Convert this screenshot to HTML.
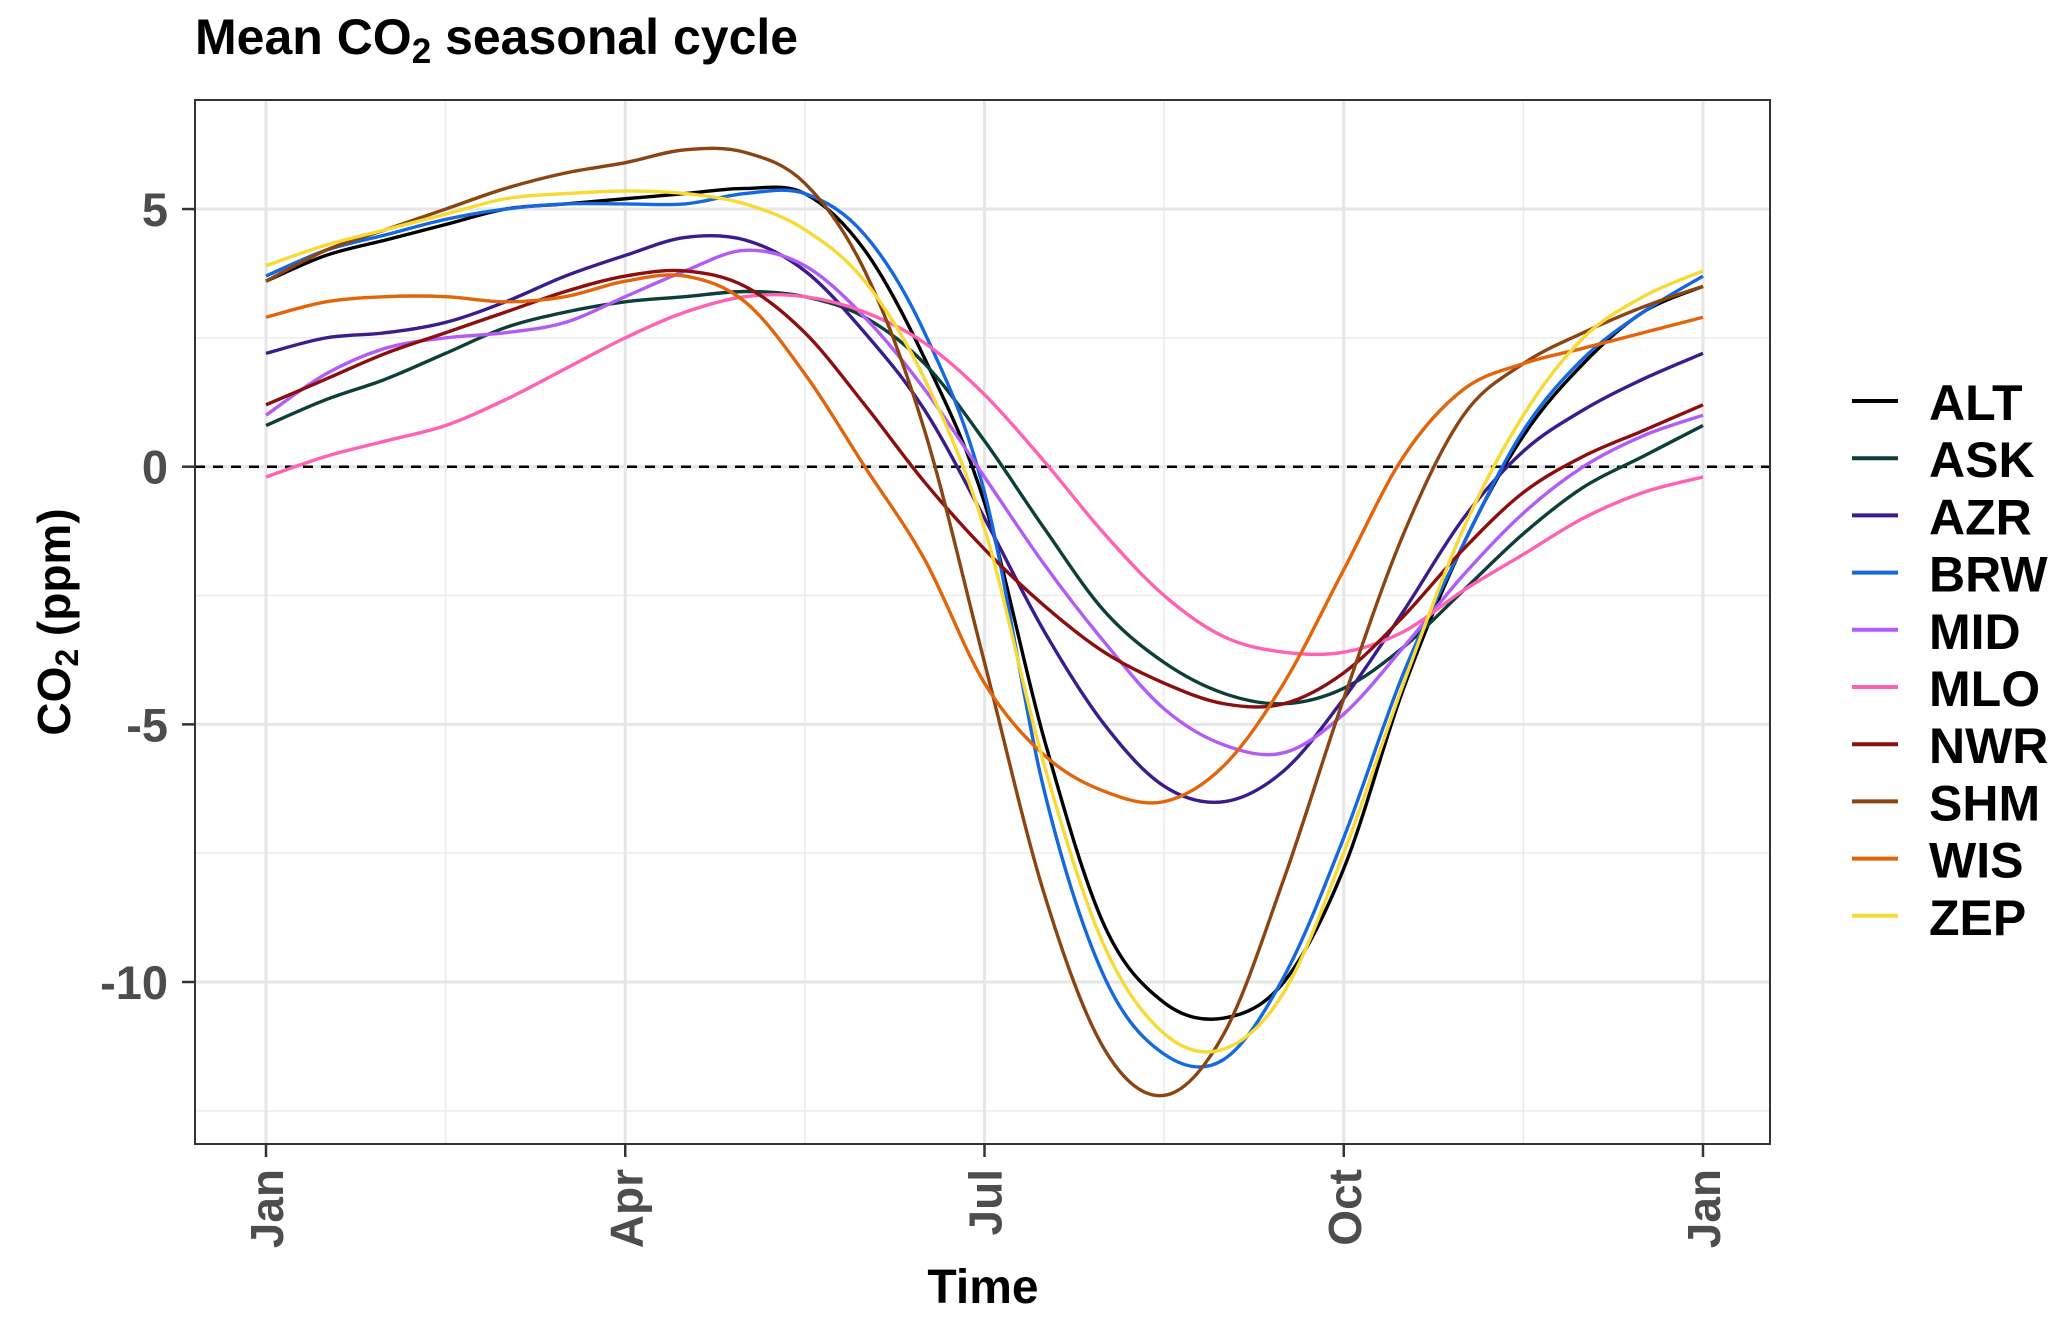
<!DOCTYPE html>
<html><head><meta charset="utf-8"><style>
body{margin:0;background:#fff;}
svg text{font-family:"Liberation Sans",Arial,sans-serif;font-weight:bold;}
</style></head><body>
<svg id="chart" width="2067" height="1323" xmlns="http://www.w3.org/2000/svg">
<rect width="2067" height="1323" fill="#fff"/>
<text x="195" y="54" font-size="50" fill="#000">Mean CO<tspan font-size="35" dy="9">2</tspan><tspan dy="-9"> seasonal cycle</tspan></text>
<g id="grid"></g>
<g id="series"></g>
<rect x="195" y="100" width="1575" height="1044" fill="none" stroke="#333" stroke-width="2"/>
<g id="axes"></g>
<text x="983" y="1303" font-size="48" text-anchor="middle" fill="#000">Time</text>
<text transform="translate(70,622) rotate(-90)" font-size="46" text-anchor="middle" fill="#000">CO<tspan font-size="32" dy="8">2</tspan><tspan dy="-8"> (ppm)</tspan></text>
<g id="legend"></g>
</svg>
<script>
const xTickLabels=["Jan","Apr","Jul","Oct","Jan"];
const xTickMonths=[0,3,6,9,12];
const yTicks=[5,0,-5,-10];
const yMinor=[2.5,-2.5,-7.5,-12.5];
const seriesNames=["ALT","ASK","AZR","BRW","MID","MLO","NWR","SHM","WIS","ZEP"];
const seriesColors=["#000000","#0d3f3a","#3a1c8c","#1668e0","#b25cf6","#ff62b2","#8c0f0f","#8b4513","#e2650c","#f7da35"];
const ALT=[3.6,4.1,4.4,4.7,5.0,5.1,5.2,5.3,5.4,5.3,4.2,2.1,-0.7,-5.3,-8.9,-10.4,-10.7,-10.0,-7.8,-4.3,-1.5,0.6,2.0,3.0,3.5];
const ASK=[0.8,1.3,1.7,2.2,2.7,3.0,3.2,3.3,3.4,3.3,2.9,2.0,0.5,-1.2,-2.8,-3.8,-4.4,-4.6,-4.3,-3.5,-2.4,-1.3,-0.4,0.2,0.8];
const AZR=[2.2,2.5,2.6,2.8,3.2,3.7,4.1,4.45,4.4,3.8,2.6,1.1,-1.0,-3.2,-5.0,-6.2,-6.5,-5.9,-4.5,-2.8,-1.0,0.3,1.1,1.7,2.2];
const BRW=[3.7,4.2,4.5,4.8,5.0,5.1,5.1,5.1,5.3,5.3,4.5,2.6,-0.5,-6.3,-9.9,-11.4,-11.5,-9.9,-7.2,-4.0,-1.5,0.7,2.1,3.0,3.7];
const MID=[1.0,1.8,2.3,2.5,2.6,2.8,3.3,3.8,4.2,3.9,2.9,1.5,-0.2,-1.9,-3.4,-4.7,-5.4,-5.55,-4.8,-3.5,-2.1,-0.9,0.0,0.6,1.0];
const MLO=[-0.2,0.2,0.5,0.8,1.3,1.9,2.5,3.0,3.3,3.3,3.0,2.4,1.4,0.1,-1.3,-2.5,-3.3,-3.6,-3.6,-3.2,-2.4,-1.7,-1.0,-0.5,-0.2];
const NWR=[1.2,1.7,2.2,2.6,3.0,3.4,3.7,3.8,3.5,2.6,1.2,-0.3,-1.6,-2.7,-3.6,-4.2,-4.6,-4.6,-4.0,-2.9,-1.6,-0.5,0.2,0.7,1.2];
const SHM=[3.6,4.2,4.6,5.0,5.4,5.7,5.9,6.15,6.1,5.5,3.8,0.7,-3.8,-8.3,-11.3,-12.2,-11.0,-8.0,-4.5,-1.3,1.0,2.0,2.6,3.1,3.5];
const WIS=[2.9,3.2,3.3,3.3,3.2,3.3,3.6,3.7,3.2,1.8,0.0,-1.8,-4.2,-5.6,-6.3,-6.5,-5.8,-4.2,-2.0,0.2,1.5,2.0,2.3,2.6,2.9];
const ZEP=[3.9,4.3,4.6,4.9,5.2,5.3,5.35,5.3,5.1,4.6,3.6,1.7,-1.2,-5.8,-9.3,-11.0,-11.3,-10.2,-7.5,-4.2,-1.2,1.0,2.5,3.3,3.8];
const seriesValues=[ALT,ASK,AZR,BRW,MID,MLO,NWR,SHM,WIS,ZEP];

const NS="http://www.w3.org/2000/svg";
const X0=195,X1=1770,Y0=100,Y1=1144;
const xJan=266,xJanEnd=1703;
function xScale(m){return xJan+(xJanEnd-xJan)*m/12;}
function yScale(v){return 466.7-51.53*v;}
function mk(tag,attrs,parent){const e=document.createElementNS(NS,tag);for(const k in attrs)e.setAttribute(k,attrs[k]);parent.appendChild(e);return e;}
const grid=document.getElementById('grid'),axes=document.getElementById('axes');
[1.5,4.5,7.5,10.5].forEach(m=>{const l=mk('line',{x1:xScale(m),x2:xScale(m),y1:Y0,y2:Y1,stroke:'#ececec','stroke-width':1.5},grid);

});
yMinor.forEach(v=>{const l=mk('line',{x1:X0,x2:X1,y1:yScale(v),y2:yScale(v),stroke:'#ececec','stroke-width':1.5},grid);

});
xTickMonths.forEach((m,i)=>{const l=mk('line',{x1:xScale(m),x2:xScale(m),y1:Y0,y2:Y1,stroke:'#e6e6e6','stroke-width':3},grid);


const t=mk('line',{x1:xScale(m),x2:xScale(m),y1:Y1,y2:Y1+13,stroke:'#333','stroke-width':2.5},axes);


const tx=mk('text',{transform:`translate(${xScale(m)+17},${Y1+25}) rotate(-90)`,'font-size':46,fill:'#4d4d4d','text-anchor':'end'},axes);
tx.textContent=xTickLabels[i];

});
yTicks.forEach(v=>{const l=mk('line',{x1:X0,x2:X1,y1:yScale(v),y2:yScale(v),stroke:'#e6e6e6','stroke-width':3},grid);


const t=mk('line',{x1:X0-13,x2:X0,y1:yScale(v),y2:yScale(v),stroke:'#333','stroke-width':2.5},axes);


const tx=mk('text',{x:168,y:yScale(v)+17,'font-size':47,fill:'#4d4d4d','text-anchor':'end'},axes);
tx.textContent=String(v);

});
const zl=mk('line',{x1:X0,x2:X1,y1:yScale(0),y2:yScale(0),stroke:'#000','stroke-width':2.5,'stroke-dasharray':'10,8'},grid);


function pathFor(vals){const pts=vals.map((v,i)=>[xScale(i/2),yScale(v)]);let d=`M${pts[0][0]},${pts[0][1]}`;
for(let i=0;i<pts.length-1;i++){const p0=pts[Math.max(0,i-1)],p1=pts[i],p2=pts[i+1],p3=pts[Math.min(pts.length-1,i+2)];
const c1=[p1[0]+(p2[0]-p0[0])/6,p1[1]+(p2[1]-p0[1])/6],c2=[p2[0]-(p3[0]-p1[0])/6,p2[1]-(p3[1]-p1[1])/6];
d+=` C${c1[0]},${c1[1]} ${c2[0]},${c2[1]} ${p2[0]},${p2[1]}`;}return d;}
const sg=document.getElementById('series'),lg=document.getElementById('legend');
seriesNames.forEach((n,i)=>{const p=mk('path',{d:pathFor(seriesValues[i]),fill:'none',stroke:seriesColors[i],'stroke-width':3.4},sg);


const y=401+57.2*i;
const k=mk('line',{x1:1852,x2:1898,y1:y,y2:y,stroke:seriesColors[i],'stroke-width':4},lg);


const t=mk('text',{x:1929,y:y+19,'font-size':50,fill:'#000'},lg);
t.textContent=n;

});
</script>
</body></html>
